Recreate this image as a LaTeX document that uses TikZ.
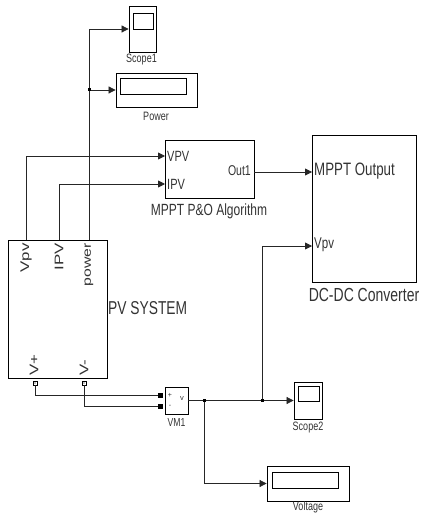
\documentclass[tikz,border=0pt]{standalone}
\usepackage{fontspec}
\setmainfont{Liberation Sans}
\usetikzlibrary{arrows.meta}
\newcommand{\vs}[1]{\scalebox{1}[1.35]{#1}}
\newcommand{\hs}[1]{\scalebox{1.35}[1]{#1}}
\tikzset{
  blk/.style={draw=black, line width=0.8pt, fill=white, inner sep=0pt},
  wire/.style={draw=black!85, line width=0.75pt},
  arr/.style={wire, -{Triangle[length=7pt,width=7pt]}},
  lbl/.style={inner sep=0pt, text=black!80},
  jdot/.style={fill=black, inner sep=0pt, minimum size=3pt, rectangle},
  vport/.style={fill=black, inner sep=0pt, minimum size=5pt, rectangle},
  pport/.style={draw=black, fill=white, inner sep=0pt, minimum size=4pt, rectangle, line width=0.6pt},
}
\begin{document}
\begin{tikzpicture}[x=1pt,y=-1pt]
\useasboundingbox (0,0) rectangle (422,513);
% blocks
\node[blk, minimum width=27pt, minimum height=46pt] (scope1) at (142.5,29) {};
\node[blk, minimum width=20pt, minimum height=16pt] (scope1s) at (143,21) {};
\node[blk, minimum width=81pt, minimum height=34pt] (power) at (156.5,90) {};
\node[blk, minimum width=66pt, minimum height=16pt] (powers) at (153,86) {};
\node[blk, minimum width=89pt, minimum height=58pt] (mppt) at (209.5,169.5) {};
\node[blk, minimum width=104pt, minimum height=147pt] (dcdc) at (364,208.5) {};
\node[blk, minimum width=99pt, minimum height=138pt] (pv) at (57.5,309) {};
\node[blk, minimum width=23pt, minimum height=27pt] (vm1) at (176.5,400.5) {};
\node[blk, minimum width=28pt, minimum height=37pt] (scope2) at (308,400.5) {};
\node[blk, minimum width=21pt, minimum height=15pt] (scope2s) at (308.5,394) {};
\node[blk, minimum width=82pt, minimum height=35pt] (voltage) at (308,483.5) {};
\node[blk, minimum width=66pt, minimum height=16pt] (voltages) at (305,480) {};

% port coordinates
\coordinate (pvv) at (26,240);
\coordinate (pvi) at (59,240);
\coordinate (pvp) at (89,240);
\coordinate (j1) at (89,90);
\coordinate (mvpv) at (165,156);
\coordinate (mipv) at (165,184);
\coordinate (mout) at (254,172);
\coordinate (dmppt) at (312,172);
\coordinate (dvpv) at (312,246);
\coordinate (vmout) at (188,400.5);
\coordinate (j2) at (204,400.5);
\coordinate (j3) at (262,400.5);
\node[pport] (pplus) at (35,383) {};
\node[pport] (pminus) at (84,383) {};
\node[vport] (vmp) at (160,395) {};
\node[vport] (vmm) at (160,406) {};

% connectors
\draw[arr] (pvp) |- (scope1.west);
\draw[arr] (j1) -- (power.west);
\draw[arr] (pvv) |- (mvpv);
\draw[arr] (pvi) |- (mipv);
\draw[arr] (mout) -- (dmppt);
\draw[arr] (j3) |- (dvpv);
\draw[wire] (vmout) -- (j2);
\draw[arr] (j2) -- (scope2.west);
\draw[arr] (j2) |- (voltage.west);
\draw[wire] (pplus.south) |- (vmp.center);
\draw[wire] (pminus.south) |- (vmm.center);
\node[vport] at (vmp) {};
\node[vport] at (vmm) {};
\fill (pplus) circle (0.7pt);
\fill (pminus) circle (0.7pt);
\node[jdot] at (j1) {};
\node[jdot] at (j2) {};
\node[jdot] at (j3) {};

% labels inside blocks
\node[lbl, anchor=west, font=\fontsize{11}{12}\selectfont] at (167,156) {\vs{VPV}};
\node[lbl, anchor=west, font=\fontsize{11}{12}\selectfont] at (167,184) {\vs{IPV}};
\node[lbl, anchor=east, font=\fontsize{10.5}{12}\selectfont] at (251,171) {\vs{Out1}};
\node[lbl, anchor=west, font=\fontsize{13.3}{14}\selectfont] at (314,171) {\vs{MPPT Output}};
\node[lbl, anchor=west, font=\fontsize{11.5}{14}\selectfont] at (314,245) {\vs{Vpv}};
\node[lbl, anchor=east, rotate=90, font=\fontsize{12.5}{14}\selectfont] at (26,243) {\hs{Vpv}};
\node[lbl, anchor=east, rotate=90, font=\fontsize{12.5}{14}\selectfont] at (59,243) {\hs{IPV}};
\node[lbl, anchor=east, rotate=90, font=\fontsize{11.7}{14}\selectfont] at (89,243) {\hs{power}};
\node[lbl, anchor=west, rotate=90, font=\fontsize{12.5}{14}\selectfont] at (34,376) {\hs{V+}};
\node[lbl, anchor=west, rotate=90, font=\fontsize{12.5}{14}\selectfont] at (84,376) {\hs{V-}};
\node[lbl, font=\fontsize{7}{8}\selectfont] at (170,395) {+};
\node[lbl, font=\fontsize{7}{8}\selectfont] at (170,406) {-};
\node[lbl, font=\fontsize{7.5}{8}\selectfont] at (182,399) {v};

% captions
\node[lbl, font=\fontsize{9}{10}\selectfont] at (141.5,60) {\vs{Scope1}};
\node[lbl, font=\fontsize{9}{10}\selectfont] at (156,116) {\vs{Power}};
\node[lbl, font=\fontsize{12}{14}\selectfont] at (209,211) {\vs{MPPT P\&O Algorithm}};
\node[lbl, font=\fontsize{14}{15}\selectfont] at (364,295) {\vs{DC-DC Converter}};
\node[lbl, anchor=west, font=\fontsize{13.8}{15}\selectfont] at (108,308) {\vs{PV SYSTEM}};
\node[lbl, font=\fontsize{8.6}{10}\selectfont] at (176.5,423) {\vs{VM1}};
\node[lbl, font=\fontsize{9}{10}\selectfont] at (308,428) {\vs{Scope2}};
\node[lbl, font=\fontsize{9}{10}\selectfont] at (308,507.5) {\vs{Voltage}};
\end{tikzpicture}
\end{document}
